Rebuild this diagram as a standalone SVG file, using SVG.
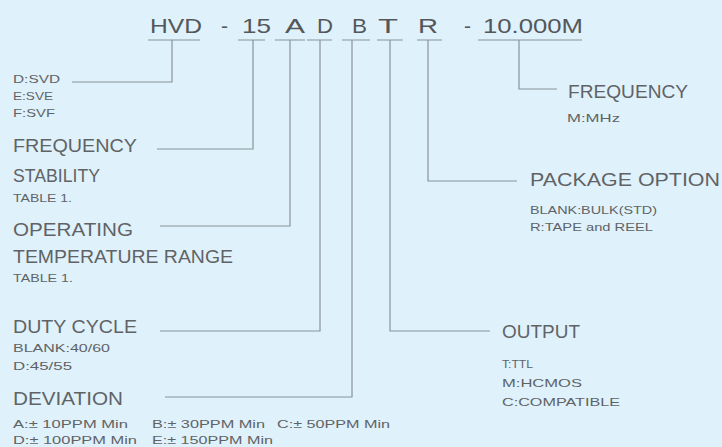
<svg xmlns="http://www.w3.org/2000/svg" width="722" height="447" viewBox="0 0 722 447">
<style>
.bg{fill:#dff1fb}
.t{font-family:"Liberation Sans",Arial,sans-serif;fill:#5f6366}
.code{font-size:21px;fill:#54575a}
.big{font-size:18px}
.sm{font-size:11px}
.ln{fill:none;stroke:#8a9399;stroke-width:1.2}
</style>
<rect class="bg" x="0" y="0" width="722" height="447"/>
<g id="code" class="t code">
<text x="150" y="33" textLength="52" lengthAdjust="spacingAndGlyphs">HVD</text>
<text x="221" y="33">-</text>
<text x="242" y="33" textLength="29" lengthAdjust="spacingAndGlyphs">15</text>
<text x="285" y="33" textLength="20" lengthAdjust="spacingAndGlyphs">A</text>
<text x="317" y="33" textLength="16" lengthAdjust="spacingAndGlyphs">D</text>
<text x="352" y="33" textLength="15" lengthAdjust="spacingAndGlyphs">B</text>
<text x="378" y="33" textLength="20" lengthAdjust="spacingAndGlyphs">T</text>
<text x="418" y="33" textLength="20" lengthAdjust="spacingAndGlyphs">R</text>
<text x="464" y="33">-</text>
<text x="483" y="33" textLength="100" lengthAdjust="spacingAndGlyphs">10.000M</text>
</g>
<g id="connectors" class="ln">
<path d="M148 40H200M238 40H265M275 40H305M307 40H332M342 40H370M377 40H403M417 40H442M478 40H582"/>
<path d="M172 40V82H72"/>
<path d="M253 40V149H157"/>
<path d="M290 40V226H160"/>
<path d="M320 40V331H160"/>
<path d="M352 40V397H165"/>
<path d="M390 40V331H490"/>
<path d="M428 40V181H517"/>
<path d="M519 40V89H557"/>
</g>
<g id="series" class="t sm">
<text x="13" y="83" textLength="47" lengthAdjust="spacingAndGlyphs">D:SVD</text>
<text x="13" y="100" textLength="40" lengthAdjust="spacingAndGlyphs">E:SVE</text>
<text x="13" y="117" textLength="42" lengthAdjust="spacingAndGlyphs">F:SVF</text>
</g>
<g id="freq-stability" class="t">
<text class="big" x="13" y="152" textLength="124" lengthAdjust="spacingAndGlyphs">FREQUENCY</text>
<text class="big" x="13" y="182" textLength="87" lengthAdjust="spacingAndGlyphs">STABILITY</text>
<text class="sm" x="13" y="202" textLength="59" lengthAdjust="spacingAndGlyphs">TABLE 1.</text>
</g>
<g id="temp-range" class="t">
<text class="big" x="13" y="236" textLength="120" lengthAdjust="spacingAndGlyphs">OPERATING</text>
<text class="big" x="13" y="263" textLength="220" lengthAdjust="spacingAndGlyphs">TEMPERATURE RANGE</text>
<text class="sm" x="13" y="282" textLength="60" lengthAdjust="spacingAndGlyphs">TABLE 1.</text>
</g>
<g id="duty-cycle" class="t">
<text class="big" x="13" y="333" textLength="124" lengthAdjust="spacingAndGlyphs">DUTY CYCLE</text>
<text class="sm" x="13" y="352" textLength="97" lengthAdjust="spacingAndGlyphs">BLANK:40/60</text>
<text class="sm" x="13" y="370" textLength="59" lengthAdjust="spacingAndGlyphs">D:45/55</text>
</g>
<g id="deviation" class="t">
<text class="big" x="13" y="405" textLength="110" lengthAdjust="spacingAndGlyphs">DEVIATION</text>
<text class="sm" x="13" y="428" textLength="115" lengthAdjust="spacingAndGlyphs">A:± 10PPM Min</text>
<text class="sm" x="152" y="428" textLength="113" lengthAdjust="spacingAndGlyphs">B:± 30PPM Min</text>
<text class="sm" x="277" y="428" textLength="113" lengthAdjust="spacingAndGlyphs">C:± 50PPM Min</text>
<text class="sm" x="13" y="444" textLength="124" lengthAdjust="spacingAndGlyphs">D:± 100PPM Min</text>
<text class="sm" x="152" y="444" textLength="121" lengthAdjust="spacingAndGlyphs">E:± 150PPM Min</text>
</g>
<g id="output" class="t">
<text class="big" x="502" y="338" textLength="78" lengthAdjust="spacingAndGlyphs">OUTPUT</text>
<text class="sm" x="502" y="368" textLength="31" lengthAdjust="spacingAndGlyphs">T:TTL</text>
<text class="sm" x="502" y="387" textLength="80" lengthAdjust="spacingAndGlyphs">M:HCMOS</text>
<text class="sm" x="502" y="406" textLength="118" lengthAdjust="spacingAndGlyphs">C:COMPATIBLE</text>
</g>
<g id="package" class="t">
<text class="big" x="530" y="186" textLength="190" lengthAdjust="spacingAndGlyphs">PACKAGE OPTION</text>
<text class="sm" x="530" y="214" textLength="127" lengthAdjust="spacingAndGlyphs">BLANK:BULK(STD)</text>
<text class="sm" x="530" y="231" textLength="123" lengthAdjust="spacingAndGlyphs">R:TAPE and REEL</text>
</g>
<g id="frequency" class="t">
<text class="big" x="568" y="98" textLength="120" lengthAdjust="spacingAndGlyphs">FREQUENCY</text>
<text class="sm" x="567" y="122" textLength="53" lengthAdjust="spacingAndGlyphs">M:MHz</text>
</g>
</svg>
